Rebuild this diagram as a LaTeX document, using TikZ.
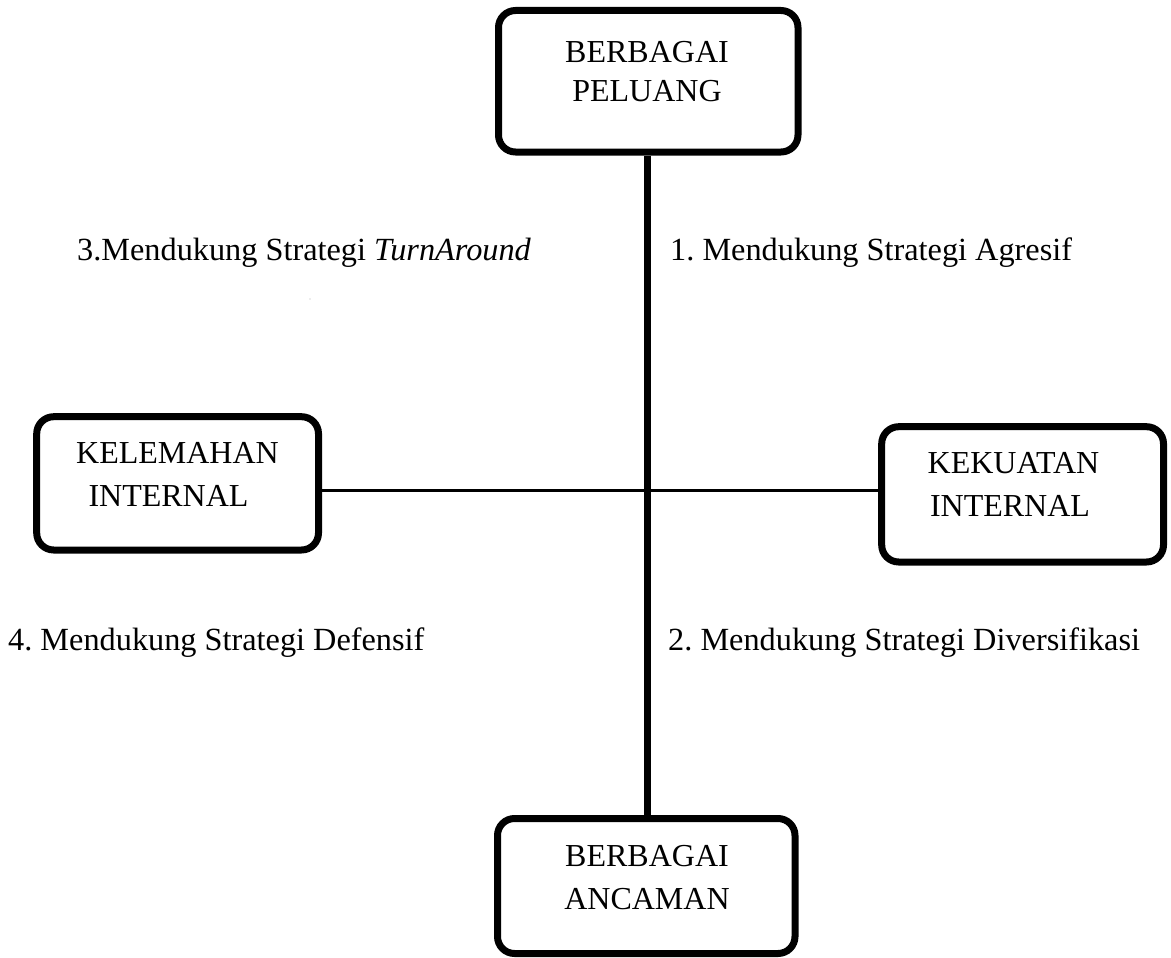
\documentclass[tikz,border=0pt]{standalone}
\usepackage{fontspec}
\setmainfont{Liberation Serif}
\frenchspacing
\begin{document}
\begin{tikzpicture}[x=1pt,y=-1pt,
  box/.style={draw=black,line width=7pt,rounded corners=17pt,inner sep=0pt,fill=white},
  lbl/.style={anchor=base,inner sep=0pt,font=\fontsize{32}{38}\selectfont},
  qlbl/.style={anchor=base west,inner sep=0pt,font=\fontsize{32.3}{38}\selectfont},
  vline/.style={line width=7pt},
  hline/.style={line width=3.3pt}]
\useasboundingbox (0,0) rectangle (1171,958);
\fill[white] (0,0) rectangle (1171,958);
\coordinate (X) at (647,490.5);
% boxes
\node[box,minimum width=299.5pt,minimum height=141.5pt] (top) at (648.25,81.25) {};
\node[box,minimum width=297.5pt,minimum height=135pt] (bot) at (646.25,886) {};
\node[box,minimum width=281.8pt,minimum height=133.3pt] (lft) at (177.6,483.35) {};
\node[box,minimum width=281.8pt,minimum height=135.3pt] (rgt) at (1022.6,494.35) {};
% connectors
\draw[vline] (top.south -| X) -- (bot.north -| X);
\draw[hline] (lft.east |- X) -- (rgt.west |- X);
% box texts
\node[lbl] (t1) at (647,63) {BERBAGAI};
\node[lbl] (t2) at (647,101.5) {PELUANG};
\node[lbl] (b1) at (647,866) {BERBAGAI};
\node[lbl] (b2) at (647,909) {ANCAMAN};
\node[lbl] (l1) at (177.5,463) {KELEMAHAN};
\node[lbl] (l2) at (168.5,506.5) {INTERNAL};
\node[lbl] (r1) at (1013.5,473) {KEKUATAN};
\node[lbl] (r2) at (1010,516.5) {INTERNAL};
% quadrant texts
\node[qlbl] (q3) at (77,260) {3.Mendukung Strategi \textit{TurnAround}};
\node[qlbl] (q1) at (670,260) {1. Mendukung Strategi Agresif};
\node[qlbl] (q4) at (8,650) {4. Mendukung Strategi Defensif};
\node[qlbl] (q2) at (668,650) {2. Mendukung Strategi Diversifikasi};
\fill[gray!60] (310,299) circle (0.7pt);
\end{tikzpicture}
\end{document}
